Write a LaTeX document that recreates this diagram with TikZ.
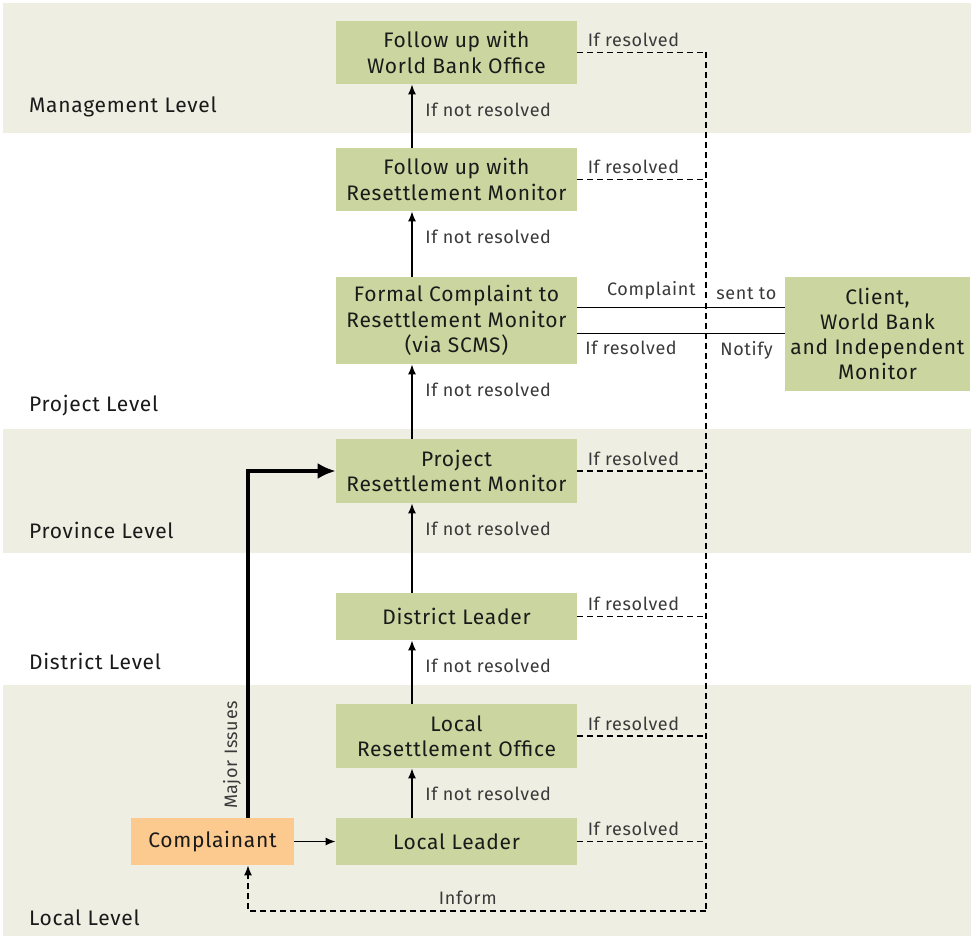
\documentclass[tikz,border=0pt]{standalone}
\usepackage{fontspec}
\setmainfont{Fira Sans}[LetterSpace=3.5]
\usepackage{tikz}
\usetikzlibrary{arrows.meta}
\usetikzlibrary{calc}
\definecolor{band}{HTML}{EEEFE2}
\definecolor{boxgreen}{HTML}{CBD5A0}
\definecolor{boxorange}{HTML}{FCC98F}
\definecolor{ink}{HTML}{1A1A1A}
\definecolor{soft}{HTML}{3A3A3A}
\tikzstyle{stage}=[fill=boxgreen,text=ink,align=center,inner sep=2pt,minimum width=120.5pt,font=\fontsize{10.5}{12.6}\selectfont]
\tikzstyle{who}  =[stage,fill=boxorange,minimum width=81.5pt]
\tikzstyle{lvl}  =[anchor=west,text=ink,font=\fontsize{10.5}{12}\selectfont]
\tikzstyle{note} =[text=soft,font=\fontsize{9}{11}\selectfont,inner sep=1pt]
\tikzstyle{up}   =[line width=.75pt,-{Latex[length=5pt,width=4pt]}]
\tikzstyle{back} =[line width=.75pt,dash pattern=on 3pt off 2pt]
\tikzstyle{major}=[line width=1.6pt,-{Latex[length=9pt,width=8pt]}]
\begin{document}
\begin{tikzpicture}[x=.5pt,y=-.5pt]
	\useasboundingbox (0,0) rectangle (974,941);
	% level bands
	\fill[band] (3,3)   rectangle (971,133);
	\fill[band] (3,429) rectangle (971,553);
	\fill[band] (3,685) rectangle (971,936);
	\node[lvl] (l-man)  at (22,107) {Management Level};
	\node[lvl] (l-pro)  at (22,406) {Project Level};
	\node[lvl] (l-prv)  at (22,530) {Province Level};
	\node[lvl] (l-dis)  at (22,661) {District Level};
	\node[lvl] (l-loc)  at (22,918) {Local Level};
	% escalation chain
	\node[stage,minimum height=31.5pt] (wbo) at (456.5,52.5) {Follow up with\\World Bank Office};
	\node[stage,minimum height=31.5pt] (rmf) at (456.5,179.5) {Follow up with\\Resettlement Monitor};
	\node[stage,minimum height=43.5pt] (fc)  at (456.5,320.5) {Formal Complaint to\\Resettlement Monitor\\(via SCMS)};
	\node[stage,minimum height=57pt,minimum width=92.5pt] (cwb) at (877.5,334) {Client,\\World Bank\\and Independent\\Monitor};
	\node[stage,minimum height=32pt] (prm) at (456.5,471) {Project\\Resettlement Monitor};
	\node[stage,minimum height=23.5pt] (dl)  at (456.5,616.5) {District Leader};
	\node[stage,minimum height=32pt] (lro) at (456.5,736) {Local\\Resettlement Office};
	\node[stage,minimum height=23.5pt] (ll)  at (456.5,841.5) {Local Leader};
	\node[who,minimum height=23.5pt]   (cp)  at (212.5,841.5) {Complainant};
	\coordinate (ax) at (412,0);
	\coordinate (sp) at (706,0);
	\coordinate (mi) at (248,0);
	% if not resolved
	\foreach \lo/\hi in {ll/lro,lro/dl,dl/prm,prm/fc,fc/rmf,rmf/wbo}{
		\draw[up] (\lo.north -| ax) -- (\hi.south -| ax);
		\node[note,anchor=west] at ($(\hi.south -| ax)+(11,25)$) {If not resolved};
	}
	% if resolved
	\foreach \b in {wbo,rmf,prm,dl,lro,ll}{
		\draw[back] (\b.east) -- (\b.east -| sp);
		\node[note,anchor=south west] at ($(\b.east)+(8,-3)$) {If resolved};
	}
	\coordinate (inf) at (706,911);
	\draw[back] (wbo.east -| sp) -- (inf);
	\draw[back,-{Latex[length=5pt,width=4pt]}] (inf) -- (inf -| mi) -- (cp.south -| mi);
	\node[note,anchor=south] at ($(inf)!.52!(inf -| mi)+(0,-4)$) {Inform};
	% formal complaint goes out
	\coordinate (fo) at ($(fc.east)+(0,-13)$);
	\coordinate (fi) at ($(fc.east)+(0,13)$);
	\draw[line width=.75pt] (fo) -- (fo -| cwb.west);
	\draw[line width=.75pt] (fi) -- (fi -| cwb.west);
	\node[note,anchor=south east] at (698,302) {Complaint};
	\node[note,anchor=south west] at (714,302) {sent to};
	\node[note,anchor=north west] at (583,339) {If resolved};
	\node[note,anchor=north west] at (718,339) {Notify};
	% complainant
	\draw[up] (cp) -- (ll);
	\draw[major] (cp.north -| mi) -- (mi |- prm.west) -- (prm.west);
	\node[note,rotate=90] at (232,755) {Major Issues};
\end{tikzpicture}
\end{document}
